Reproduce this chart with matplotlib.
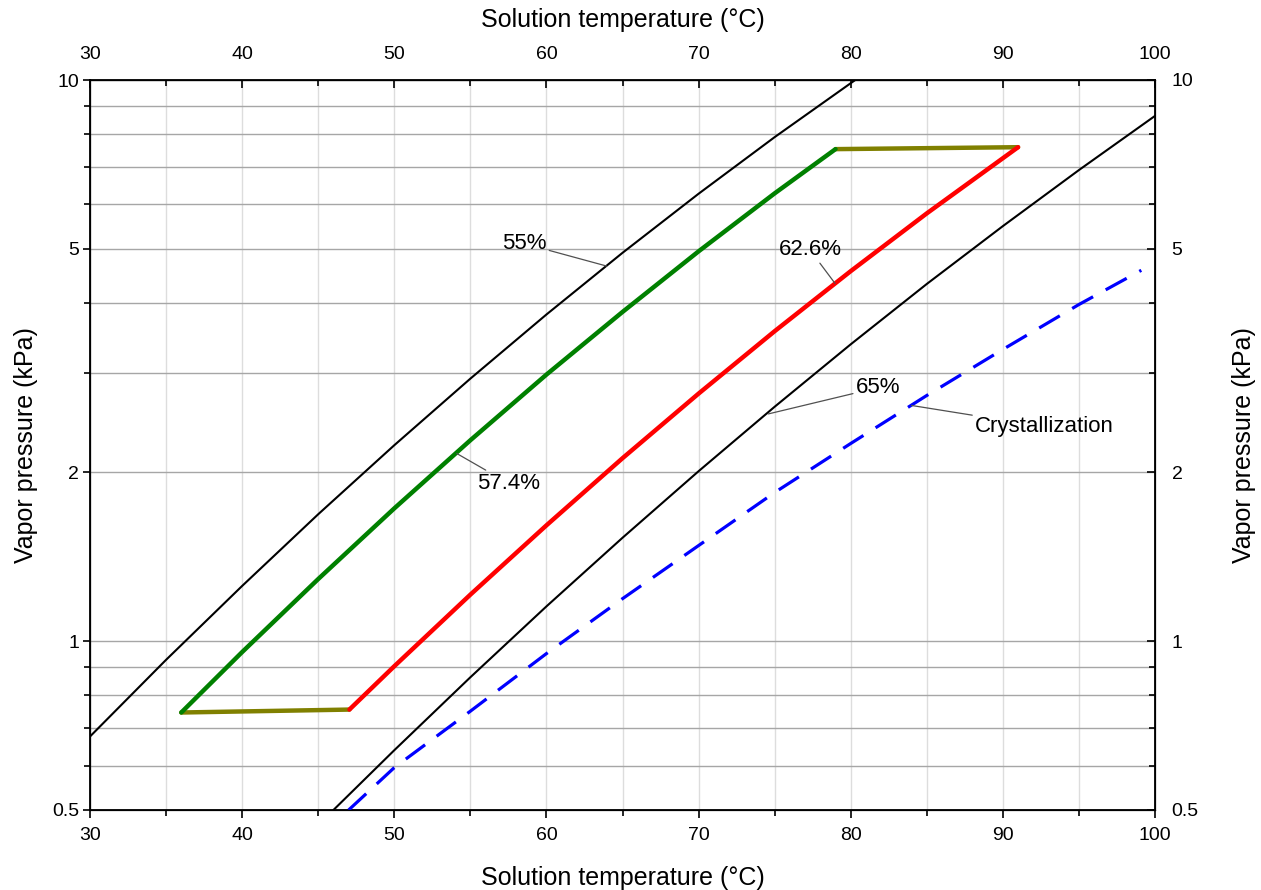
import numpy as np
import matplotlib
matplotlib.use("Agg")
import matplotlib.pyplot as plt
from matplotlib.ticker import FixedLocator, MultipleLocator, NullFormatter

plt.rcParams['font.family'] = ['Liberation Sans', 'DejaVu Sans']

# isoconcentration lines, (T in degC, vapour pressure in kPa)
T55 = [30, 35, 40, 45, 50, 55, 60, 65, 70, 75, 80, 80.3]
P55 = [0.676, 0.926, 1.254, 1.683, 2.234, 2.936, 3.82, 4.92, 6.27, 7.91, 9.87, 10.0]

T65 = [46, 50, 55, 60, 65, 70, 75, 80, 85, 90, 95, 100]
P65 = [0.5, 0.639, 0.862, 1.153, 1.528, 2.008, 2.616, 3.38, 4.33, 5.49, 6.91, 8.63]

# cycle: absorber side (57.4 %) and generator side (62.6 %)
T_weak = [36, 40, 45, 50, 55, 60, 65, 70, 75, 79]
P_weak = [0.746, 0.956, 1.29, 1.724, 2.28, 2.985, 3.86, 4.95, 6.28, 7.53]

T_strong = [47.05, 50, 55, 60, 65, 70, 75, 80, 85, 91]
P_strong = [0.755, 0.902, 1.21, 1.608, 2.118, 2.761, 3.567, 4.564, 5.785, 7.59]

# throttling / heat exchange legs
T_top = [79, 91]
P_top = [7.53, 7.59]
T_bot = [36, 47.05]
P_bot = [0.746, 0.755]

# crystallization limit
T_cry = [47, 50, 55, 60, 65, 70, 75, 80, 85, 90, 95, 99.1]
P_cry = [0.5, 0.595, 0.75, 0.95, 1.19, 1.48, 1.84, 2.25, 2.74, 3.31, 3.98, 4.58]

Y_MAJOR = [0.5, 1, 2, 5, 10]
Y_MINOR = [0.6, 0.7, 0.8, 0.9, 3, 4, 6, 7, 8, 9]
Y_LABELS = ['0.5', '1', '2', '5', '10']

fig = plt.figure(figsize=(12.61, 8.90), dpi=100)
ax = fig.add_axes([90 / 1261, 80 / 890, 1065 / 1261, 730 / 890])

ax.set_xlim(30, 100)
ax.set_yscale('log')
ax.set_ylim(0.5, 10)

ax.plot(T55, P55, color='black', lw=1.5, zorder=3)
ax.plot(T65, P65, color='black', lw=1.5, zorder=3)
ax.plot(T_cry, P_cry, color='#0000ff', lw=2.3, ls=(0, (7.5, 4.5)), zorder=3)
ax.plot(T_top, P_top, color='#808000', lw=3.2, solid_capstyle='round', zorder=4)
ax.plot(T_bot, P_bot, color='#808000', lw=3.2, solid_capstyle='round', zorder=4)
ax.plot(T_weak, P_weak, color='#008000', lw=3.2, solid_capstyle='round', zorder=5)
ax.plot(T_strong, P_strong, color='#ff0000', lw=3.2, solid_capstyle='round', zorder=5)

# ticks and grid
ax.yaxis.set_major_locator(FixedLocator(Y_MAJOR))
ax.yaxis.set_minor_locator(FixedLocator(Y_MINOR))
ax.yaxis.set_minor_formatter(NullFormatter())
ax.set_yticklabels(Y_LABELS)
ax.xaxis.set_major_locator(MultipleLocator(10))
ax.xaxis.set_minor_locator(MultipleLocator(5))

ax.grid(which='both', axis='y', color='#a6a6a6', lw=1.0, zorder=0)
ax.grid(which='both', axis='x', color='#dddddd', lw=1.0, zorder=0)

ax.tick_params(axis='x', which='major', direction='out', length=6, width=1.2,
               labelsize=14, pad=6)
ax.tick_params(axis='x', which='minor', direction='out', length=4, width=1.2)
ax.tick_params(axis='y', which='major', direction='out', length=5, width=1.2,
               labelsize=14, pad=3)
ax.tick_params(axis='y', which='minor', direction='out', length=4, width=1.2)
for s in ax.spines.values():
    s.set_linewidth(1.3)

ax.set_xlabel('Solution temperature (°C)', fontsize=18, labelpad=16)
ax.set_ylabel('Vapor pressure (kPa)', fontsize=18, labelpad=10)

# mirrored top axis
axt = ax.twiny()
axt.set_xlim(ax.get_xlim())
axt.xaxis.set_major_locator(MultipleLocator(10))
axt.xaxis.set_minor_locator(MultipleLocator(5))
axt.tick_params(axis='x', which='major', direction='in', length=6, width=1.2,
                labelsize=14, pad=12)
axt.tick_params(axis='x', which='minor', direction='in', length=4, width=1.2)
axt.set_xlabel('Solution temperature (°C)', fontsize=18, labelpad=14)

# mirrored right axis
axr = ax.twinx()
axr.set_yscale('log')
axr.set_ylim(ax.get_ylim())
axr.yaxis.set_major_locator(FixedLocator(Y_MAJOR))
axr.yaxis.set_minor_locator(FixedLocator(Y_MINOR))
axr.yaxis.set_minor_formatter(NullFormatter())
axr.set_yticklabels(Y_LABELS)
axr.tick_params(axis='y', which='major', direction='in', length=6, width=1.2,
                labelsize=14, pad=12)
axr.tick_params(axis='y', which='minor', direction='in', length=4, width=1.2)
axr.set_ylabel('Vapor pressure (kPa)', fontsize=18, labelpad=24)

# curve labels with leader lines
leader = dict(arrowstyle='-', color='#505050', lw=0.9, shrinkA=0, shrinkB=0)
ax.annotate('55%', xy=(63.96, 4.66), xytext=(60.0, 5.11), fontsize=16,
            ha='right', va='center', arrowprops=leader, zorder=6)
ax.annotate('57.4%', xy=(54.1, 2.16), xytext=(55.46, 1.91), fontsize=16,
            ha='left', va='center', arrowprops=leader, zorder=6)
ax.annotate('62.6%', xy=(78.97, 4.34), xytext=(77.32, 4.98), fontsize=16,
            ha='center', va='center', arrowprops=leader, zorder=6)
ax.annotate('65%', xy=(74.58, 2.54), xytext=(80.33, 2.83), fontsize=16,
            ha='left', va='center', arrowprops=leader, zorder=6)
ax.annotate('Crystallization', xy=(84.0, 2.63), xytext=(88.17, 2.41), fontsize=16,
            ha='left', va='center', arrowprops=leader, zorder=6)

fig.savefig('out.png', dpi=100)
